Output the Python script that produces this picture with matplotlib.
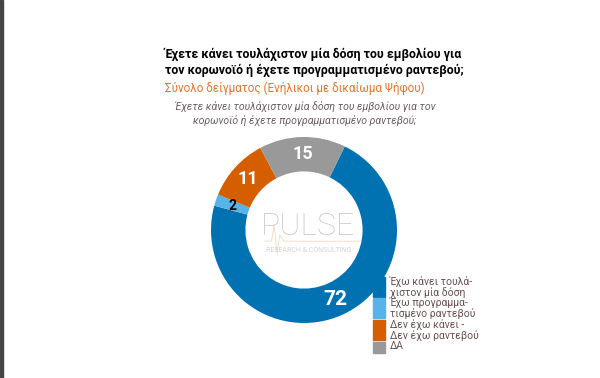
import matplotlib
matplotlib.use('Agg')
import numpy as np
import matplotlib.pyplot as plt
from matplotlib.patches import Rectangle

labels = ['Έχω κάνει τουλά-\nχιστον μία δόση', 'Έχω προγραμμα-\nτισμένο ραντεβού',
          'Δεν έχω κάνει -\nΔεν έχω ραντεβού', 'ΔΑ']
values = [72, 2, 11, 15]
colors = ['#0072B2', '#56B4E9', '#D55E00', '#999999']
label_colors = ['white', 'black', 'white', 'white']
label_sizes = [15, 10, 13, 13]

title = 'Έχετε κάνει τουλάχιστον μία δόση του εμβολίου για\nτον κορωνοϊό ή έχετε προγραμματισμένο ραντεβού;'
subtitle = 'Σύνολο δείγματος (Ενήλικοι με δικαίωμα Ψήφου)'
question = 'Έχετε κάνει τουλάχιστον μία δόση του εμβολίου για τον\nκορωνοϊό ή έχετε προγραμματισμένο ραντεβού;'

plt.rcParams['font.family'] = ['Roboto', 'DejaVu Sans']

W, H = 600, 378
fig = plt.figure(figsize=(6, 3.78), dpi=100)
fig.patch.set_facecolor('white')

def fx(x):
    return x / W

def fy(y):
    return 1 - y / H

# dark strip on the left edge
fig.patches.append(Rectangle((0, 0), fx(3), 1, transform=fig.transFigure, color='#444444'))

fig.text(fx(165), fy(48), title, fontsize=8.9, fontweight='bold', color='black',
         va='top', ha='left', linespacing=1.25)
fig.text(fx(165), fy(82), subtitle, fontsize=8.4, color='#E8742A', va='top', ha='left')
fig.text(fx(305), fy(101), question, fontsize=7.6, color='#6E6060', style='italic',
         va='top', ha='center', linespacing=1.3)

# donut
cx, cy, r = 304, 230, 93
ax = fig.add_axes([fx(cx - r), fy(cy + r), 2 * r / W, 2 * r / H])
wedges, _ = ax.pie(values, colors=colors, startangle=64, counterclock=False,
                   radius=1, wedgeprops=dict(width=0.37, linewidth=0))
ax.set_xlim(-1, 1)
ax.set_ylim(-1, 1)
ax.axis('off')

for w, v, c, s in zip(wedges, values, label_colors, label_sizes):
    ang = np.deg2rad((w.theta1 + w.theta2) / 2)
    ax.text(0.815 * np.cos(ang), 0.815 * np.sin(ang), str(v), ha='center', va='center',
            color=c, fontsize=s, fontweight='bold')

# watermark
ax.text(0.04, 0.04, 'PULSE', ha='center', va='center', fontsize=23, color='#C9C9C9',
        fontweight='light', zorder=5)
ax.text(0.05, -0.22, 'RESEARCH & CONSULTING', ha='center', va='center', fontsize=5,
        color='#D2D2D2', zorder=5)
ax.plot([-0.42, -0.35, -0.32, -0.29, -0.26, -0.22, 0.6],
        [-0.12, -0.12, 0.05, -0.25, -0.05, -0.12, -0.12],
        color='#F2D9C2', lw=0.6, zorder=4)

# legend
lx = 373
leg = [(277, 297), (298, 318), (320, 340), (342, 353)]
text_y = [276, 297, 319, 341]
for (y0, y1), ty, col, lab in zip(leg, text_y, colors, labels):
    fig.patches.append(Rectangle((fx(lx), fy(y1)), 12 / W, (y1 - y0) / H,
                                 transform=fig.transFigure, color=col, zorder=10))
    fig.text(fx(390), fy(ty), lab, fontsize=7.5, color='#6B5050', va='top', ha='left',
             linespacing=1.05, zorder=11)

fig.savefig('out.png', dpi=100)
